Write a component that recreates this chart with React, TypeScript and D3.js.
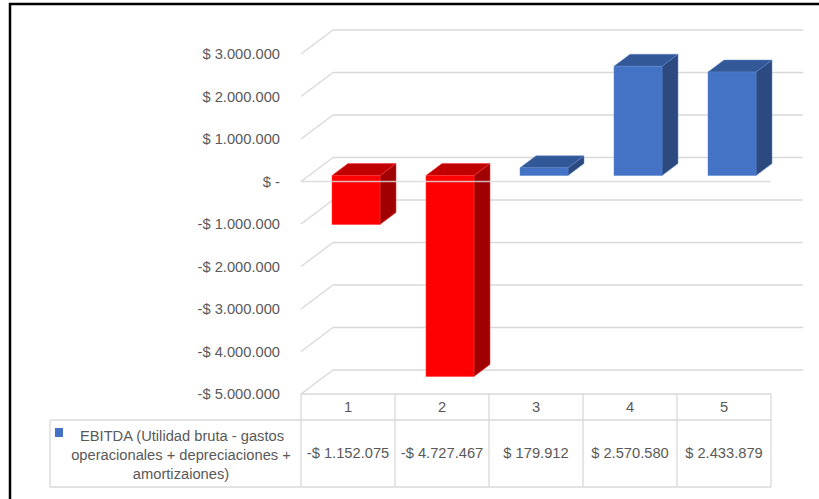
import React from "react";
import * as d3 from "d3";

const categories = ["1", "2", "3", "4", "5"];
const values = [-1152075, -4727467, 179912, 2570580, 2433879];
const yTicks = [3000000, 2000000, 1000000, 0, -1000000, -2000000, -3000000, -4000000, -5000000];
const seriesName = ["EBITDA (Utilidad bruta - gastos", "operacionales + depreciaciones +", "amortizaiones)"];

const W = 819;
const H = 499;
const DX = 32;
const DY = 24;
const FONT = "'Liberation Sans', Arial, sans-serif";
const FS = 14.7;
const GRID = "#D9D9D9";
const TEXT = "#595959";

const locale = d3.formatLocale({
  decimal: ",",
  thousands: ".",
  grouping: [3],
  currency: ["$ ", ""],
  minus: "-",
});
const fmt = locale.format("$,.0f");
const money = (v: number) => (v === 0 ? "$ -" : fmt(v));

export default function App() {
  const x = d3.scaleBand<string>().domain(categories).range([301, 771]).padding(0);
  const y = d3.scaleLinear().domain([-5000000, 3000000]).range([394, 54]);
  const bw = x.bandwidth();
  const barW = 48;

  const proj = (px: number, py: number, depth: number): [number, number] => [px + depth * DX, py - depth * DY];
  const poly = (pts: [number, number][]) => pts.map((p) => p.join(",")).join(" ");

  const x0 = x.range()[0];
  const x1 = x.range()[1];
  const tableTop = y(-5000000);
  const headerBottom = 420;
  const tableBottom = 487;
  const legendLeft = 50;

  return (
    <svg width={W} height={H} style={{ position: "absolute", left: 0, top: 0, background: "#fff" }}>
      <rect x={0} y={0} width={W} height={H} fill="#fff" />
      {yTicks.map((t) => {
        const yf = y(t);
        const [bx, by] = proj(x0, yf, 1);
        const [ex] = proj(x1, yf, 1);
        return (
          <g key={t}>
            <line x1={x0} y1={yf} x2={bx} y2={by} stroke={GRID} strokeWidth={1.3} />
            <line x1={bx} y1={by} x2={ex} y2={by} stroke={GRID} strokeWidth={1.3} />
          </g>
        );
      })}
      {yTicks.map((t) => (
        <text key={"l" + t} x={280} y={y(t)} dy="0.35em" textAnchor="end" fontFamily={FONT} fontSize={FS} fill={TEXT}>
          {money(t)}
        </text>
      ))}
      {values.map((v, i) => {
        const cx = (x(categories[i]) as number) + bw / 2;
        const left = cx - barW / 2;
        const right = cx + barW / 2;
        const yTop = y(Math.max(v, 0));
        const yBot = y(Math.min(v, 0));
        const neg = v < 0;
        const front = neg ? "#FF0000" : "#4472C4";
        const top = neg ? "#C00000" : "#335898";
        const side = neg ? "#A00000" : "#2C4A80";
        const edge = neg ? "#FF3333" : "#5B84CC";
        const fTL = proj(left, yTop, 0.25);
        const fTR = proj(right, yTop, 0.25);
        const fBR = proj(right, yBot, 0.25);
        const fBL = proj(left, yBot, 0.25);
        const bTL = proj(left, yTop, 0.75);
        const bTR = proj(right, yTop, 0.75);
        const bBR = proj(right, yBot, 0.75);
        return (
          <g key={"b" + i}>
            <polygon points={poly([fTR, bTR, bBR, fBR])} fill={side} stroke={edge} strokeWidth={0.5} />
            <polygon points={poly([fTL, bTL, bTR, fTR])} fill={top} stroke={edge} strokeWidth={0.5} />
            <polygon points={poly([fTL, fTR, fBR, fBL])} fill={front} stroke={edge} strokeWidth={0.5} />
          </g>
        );
      })}
      <line x1={x0} y1={y(0)} x2={x1} y2={y(0)} stroke={GRID} strokeWidth={1.3} opacity={0.85} />
      <g stroke={GRID} strokeWidth={1.3}>
        <line x1={x0} y1={tableTop} x2={x1} y2={tableTop} />
        <line x1={legendLeft} y1={headerBottom} x2={x1} y2={headerBottom} />
        <line x1={legendLeft} y1={tableBottom} x2={x1} y2={tableBottom} />
        <line x1={legendLeft} y1={headerBottom} x2={legendLeft} y2={tableBottom} />
        {categories.map((c) => (
          <line key={"v" + c} x1={x(c)} y1={tableTop} x2={x(c)} y2={tableBottom} />
        ))}
        <line x1={x1} y1={tableTop} x2={x1} y2={tableBottom} />
      </g>
      {categories.map((c, i) => (
        <g key={"t" + c}>
          <text x={(x(c) as number) + bw / 2} y={407} dy="0.35em" textAnchor="middle" fontFamily={FONT} fontSize={FS} fill={TEXT}>
            {c}
          </text>
          <text x={(x(c) as number) + bw / 2} y={453} dy="0.35em" textAnchor="middle" fontFamily={FONT} fontSize={FS} fill={TEXT}>
            {money(values[i])}
          </text>
        </g>
      ))}
      <rect x={55} y={428} width={8} height={9} fill="#4472C4" />
      {seriesName.map((s, i) => (
        <text key={"s" + i} x={i === 0 ? 182 : 181} y={436 + i * 19} dy="0.35em" textAnchor="middle" fontFamily={FONT} fontSize={FS} fill={TEXT}>
          {s}
        </text>
      ))}
      <path d={`M10,${H} V4 H${W}`} fill="none" stroke="#000" strokeWidth={2.5} />
    </svg>
  );
}
